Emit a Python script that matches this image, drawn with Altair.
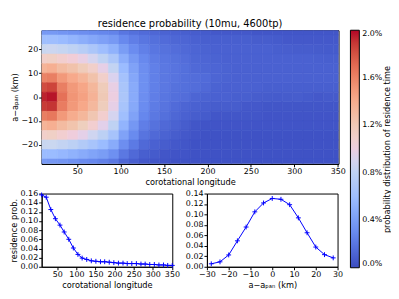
import altair as alt
import pandas as pd

chart_title = "residence probability (10mu, 4600tp)"
cbar_title = "probability distribution of residence time"
lon_title = "corotational longitude"
rad_title = "a\u2212a\u209a\u2090\u2099 (km)"
prob_title = "residence prob."

# corotational longitude bin centres (deg)
lon_x = [9, 21, 33, 45, 57, 68, 80, 92, 104, 115, 127, 139, 151, 163, 174,
         186, 198, 210, 222, 233, 245, 257, 269, 280, 292, 304, 316, 328, 339, 351]
# radial offset bin centres (km)
rad_y = [28, 24, 20, 16, 12, 8, 4, 0, -4, -8, -12, -16, -20, -24, -28]

# marginal residence probability vs longitude
lon_prob = [0.157, 0.152, 0.125, 0.105, 0.091, 0.076, 0.060, 0.041, 0.027, 0.019,
            0.016, 0.013, 0.012, 0.011, 0.011, 0.010, 0.009, 0.008, 0.008, 0.007,
            0.007, 0.007, 0.006, 0.006, 0.005, 0.005, 0.004, 0.004, 0.003, 0.003]

# marginal residence probability vs radial offset
rad_x = [-28, -24, -20, -16, -12, -8, -4, 0, 4, 8, 12, 16, 20, 24, 28]
rad_prob = [0.0057, 0.0094, 0.0226, 0.0496, 0.076, 0.105, 0.122, 0.1306,
            0.129, 0.1187, 0.0935, 0.065, 0.0377, 0.0232, 0.017]

# 2-D residence probability (%), one row per radial bin (top to bottom)
row_p28 = [0.38, 0.38, 0.36, 0.34, 0.32, 0.30, 0.28, 0.26, 0.20, 0.17, 0.15, 0.13, 0.11, 0.10, 0.09,
           0.08, 0.07, 0.06, 0.06, 0.06, 0.06, 0.05, 0.05, 0.05, 0.05, 0.05, 0.05, 0.05, 0.05, 0.05]
row_p24 = [0.60, 0.60, 0.57, 0.54, 0.50, 0.46, 0.42, 0.38, 0.29, 0.24, 0.20, 0.17, 0.15, 0.13, 0.12,
           0.10, 0.09, 0.09, 0.09, 0.09, 0.09, 0.08, 0.08, 0.07, 0.06, 0.06, 0.06, 0.06, 0.06, 0.06]
row_p20 = [0.85, 0.87, 0.84, 0.80, 0.75, 0.68, 0.60, 0.52, 0.40, 0.31, 0.25, 0.20, 0.18, 0.16, 0.14,
           0.12, 0.11, 0.10, 0.10, 0.10, 0.10, 0.10, 0.10, 0.09, 0.085, 0.08, 0.08, 0.075, 0.07, 0.07]
row_p16 = [1.10, 1.12, 1.08, 1.04, 0.98, 0.90, 0.80, 0.68, 0.50, 0.38, 0.29, 0.23, 0.20, 0.18, 0.16,
           0.13, 0.12, 0.11, 0.10, 0.10, 0.10, 0.10, 0.10, 0.10, 0.10, 0.10, 0.10, 0.095, 0.09, 0.09]
row_p12 = [1.35, 1.38, 1.30, 1.25, 1.18, 1.10, 0.97, 0.82, 0.58, 0.43, 0.32, 0.25, 0.21, 0.19, 0.17,
           0.14, 0.13, 0.12, 0.11, 0.10, 0.10, 0.10, 0.10, 0.10, 0.10, 0.10, 0.10, 0.10, 0.10, 0.10]
row_p08 = [1.60, 1.62, 1.50, 1.42, 1.35, 1.25, 1.10, 0.92, 0.64, 0.46, 0.33, 0.25, 0.21, 0.19, 0.17,
           0.16, 0.15, 0.12, 0.11, 0.10, 0.10, 0.10, 0.10, 0.10, 0.10, 0.10, 0.10, 0.10, 0.10, 0.10]
row_p04 = [1.82, 1.85, 1.62, 1.50, 1.44, 1.33, 1.18, 0.98, 0.67, 0.48, 0.33, 0.25, 0.21, 0.18, 0.17,
           0.16, 0.14, 0.11, 0.10, 0.10, 0.10, 0.10, 0.09, 0.09, 0.09, 0.09, 0.09, 0.09, 0.09, 0.09]
row_000 = [1.95, 1.98, 1.68, 1.52, 1.46, 1.36, 1.20, 1.00, 0.68, 0.48, 0.32, 0.24, 0.20, 0.17, 0.16,
           0.12, 0.11, 0.10, 0.10, 0.09, 0.09, 0.08, 0.075, 0.07, 0.075, 0.08, 0.07, 0.06, 0.065, 0.065]
row_m04 = [1.88, 1.90, 1.63, 1.50, 1.43, 1.32, 1.17, 0.97, 0.66, 0.47, 0.31, 0.23, 0.19, 0.15, 0.12,
           0.10, 0.09, 0.08, 0.08, 0.08, 0.06, 0.06, 0.05, 0.05, 0.05, 0.05, 0.05, 0.05, 0.05, 0.05]
row_m08 = [1.62, 1.65, 1.50, 1.40, 1.33, 1.22, 1.08, 0.90, 0.61, 0.43, 0.28, 0.21, 0.17, 0.13, 0.10,
           0.08, 0.07, 0.05, 0.05, 0.05, 0.05, 0.05, 0.04, 0.04, 0.04, 0.04, 0.04, 0.04, 0.04, 0.04]
row_m12 = [1.35, 1.38, 1.30, 1.24, 1.16, 1.07, 0.95, 0.80, 0.53, 0.37, 0.24, 0.18, 0.14, 0.11, 0.08,
           0.05, 0.04, 0.04, 0.04, 0.04, 0.04, 0.04, 0.04, 0.04, 0.04, 0.04, 0.04, 0.04, 0.04, 0.04]
row_m16 = [1.10, 1.12, 1.07, 1.02, 0.96, 0.88, 0.78, 0.65, 0.43, 0.30, 0.19, 0.14, 0.11, 0.08, 0.06,
           0.04, 0.03, 0.03, 0.03, 0.03, 0.03, 0.03, 0.03, 0.03, 0.03, 0.03, 0.03, 0.03, 0.03, 0.03]
row_m20 = [0.85, 0.86, 0.82, 0.78, 0.72, 0.66, 0.58, 0.48, 0.32, 0.22, 0.14, 0.10, 0.08, 0.06, 0.05,
           0.03, 0.03, 0.03, 0.03, 0.03, 0.03, 0.03, 0.03, 0.03, 0.03, 0.03, 0.03, 0.03, 0.03, 0.03]
row_m24 = [0.58, 0.58, 0.55, 0.52, 0.48, 0.44, 0.40, 0.33, 0.21, 0.14, 0.09, 0.07, 0.05, 0.04, 0.04,
           0.03, 0.03, 0.03, 0.03, 0.03, 0.03, 0.03, 0.03, 0.03, 0.03, 0.03, 0.03, 0.03, 0.03, 0.03]
row_m28 = [0.38, 0.37, 0.35, 0.33, 0.30, 0.28, 0.25, 0.21, 0.13, 0.09, 0.06, 0.05, 0.04, 0.03, 0.03,
           0.03, 0.03, 0.03, 0.03, 0.03, 0.03, 0.03, 0.03, 0.03, 0.03, 0.03, 0.03, 0.03, 0.03, 0.03]

heat_rows = [row_p28, row_p24, row_p20, row_p16, row_p12, row_p08, row_p04, row_000,
             row_m04, row_m08, row_m12, row_m16, row_m20, row_m24, row_m28]

coolwarm = ["#3b4cc0", "#6788ee", "#9abbff", "#c9d7f0", "#edd1c2", "#f7a889", "#e26952", "#b40426"]

# ---- build cell table (edges half-way between bin centres) ----
def edges(centres):
    lo, hi = [], []
    for i, c in enumerate(centres):
        left = (centres[i - 1] + c) / 2 if i > 0 else c - (centres[1] - centres[0]) / 2
        right = (centres[i + 1] + c) / 2 if i < len(centres) - 1 else c + (c - centres[i - 1]) / 2
        lo.append(left)
        hi.append(right)
    return lo, hi

xl, xh = edges(lon_x)
ys_sorted = sorted(rad_y)
yl_s, yh_s = edges(ys_sorted)
ylo = {y: a for y, a in zip(ys_sorted, yl_s)}
yhi = {y: b for y, b in zip(ys_sorted, yh_s)}

records = []
for y, row in zip(rad_y, heat_rows):
    for i, v in enumerate(row):
        records.append({"x0": xl[i], "x1": xh[i], "y0": ylo[y], "y1": yhi[y], "p": v})
heat_df = pd.DataFrame(records)
lon_df = pd.DataFrame({"lon": lon_x, "prob": lon_prob})
rad_df = pd.DataFrame({"rad": rad_x, "prob": rad_prob})

color_scale = alt.Scale(domain=[0, 2], range=coolwarm)
y_heat_scale = alt.Scale(domain=[-28, 28], nice=False, zero=False)

heat_rect = alt.Chart(heat_df).mark_rect(clip=True, strokeWidth=0.6).encode(
    x=alt.X("x0:Q", scale=alt.Scale(domain=[9, 351], nice=False, zero=False),
            axis=alt.Axis(values=[50, 100, 150, 200, 250, 300, 350], title=lon_title)),
    x2="x1:Q",
    y=alt.Y("y0:Q", scale=y_heat_scale,
            axis=alt.Axis(values=[-20, -10, 0, 10, 20], title=rad_title, orient="left")),
    y2="y1:Q",
    color=alt.Color("p:Q", scale=color_scale,
                    legend=alt.Legend(orient="none", legendX=312, legendY=0, direction="vertical",
                                      gradientLength=240, gradientThickness=9,
                                      gradientStrokeColor="black", gradientStrokeWidth=1,
                                      title=None,
                                      values=[0, 0.4, 0.8, 1.2, 1.6, 2.0],
                                      labelExpr="format(datum.value, '.1f') + '%'",
                                      labelBaseline="middle",
                                      labelFontSize=8, labelOffset=3)),
    stroke=alt.Stroke("p:Q", scale=color_scale, legend=None),
)

# invisible layer that only carries the colour-bar caption as a right-hand axis title
cbar_caption = alt.Chart(heat_df).mark_point(opacity=0).encode(
    y=alt.Y("y0:Q", scale=y_heat_scale,
            axis=alt.Axis(orient="right", title=cbar_title, labels=False, ticks=False, domain=False,
                          titleAngle=270, titleX=49, titleY=120, titleAlign="center",
                          titleBaseline="middle", titleFontSize=8.3)),
)

heat = alt.layer(heat_rect, cbar_caption, title=alt.Title(chart_title, fontSize=10, fontWeight="normal", offset=1)
                 ).resolve_axis(y="independent").properties(width=300, height=135)

plus = "M-1,0H1M0,-1V1"
pt_style = alt.OverlayMarkDef(shape=plus, size=24, color="#0000ff", filled=False, strokeWidth=1, opacity=1)

bl = alt.Chart(lon_df).mark_line(color="#0000ff", strokeWidth=1, point=pt_style).encode(
    x=alt.X("lon:Q", scale=alt.Scale(domain=[9, 351], nice=False, zero=False),
            axis=alt.Axis(values=[50, 100, 150, 200, 250, 300, 350], title=lon_title, labelOverlap=False)),
    y=alt.Y("prob:Q", scale=alt.Scale(domain=[0, 0.16], nice=False),
            axis=alt.Axis(values=[0, 0.02, 0.04, 0.06, 0.08, 0.10, 0.12, 0.14, 0.16], format=".2f",
                          title=prob_title, labelOverlap=False)),
).properties(width=132, height=74)

br = alt.Chart(rad_df).mark_line(color="#0000ff", strokeWidth=1, point=pt_style).encode(
    x=alt.X("rad:Q", scale=alt.Scale(domain=[-30, 30], nice=False, zero=False),
            axis=alt.Axis(values=[-30, -20, -10, 0, 10, 20, 30], title=rad_title, labelOverlap=False)),
    y=alt.Y("prob:Q", scale=alt.Scale(domain=[0, 0.14], nice=False),
            axis=alt.Axis(values=[0, 0.02, 0.04, 0.06, 0.08, 0.10, 0.12, 0.14], format=".2f", title=None,
                          labelOverlap=False)),
).properties(width=132, height=74)

bottom = alt.hconcat(bl, br, spacing=35, bounds="flush")
chart = alt.vconcat(heat, bottom, spacing=30, bounds="flush").resolve_scale(color="independent").properties(
    padding={"left": 0, "top": 9, "right": 0, "bottom": 0}
).configure(font="DejaVu Sans").configure_axis(
    labelFontSize=8, titleFontSize=8.3, titleFontWeight="normal", labelColor="black", titleColor="black",
    domainColor="black", tickColor="black", tickSize=3, grid=False, labelPadding=1, titlePadding=2,
    labelOverlap=False, labelFlush=False,
).configure_view(stroke="black", strokeWidth=1).configure_legend(labelColor="black", titleColor="black")

chart.save("out.html", embed_options={"renderer": "svg", "actions": False})
